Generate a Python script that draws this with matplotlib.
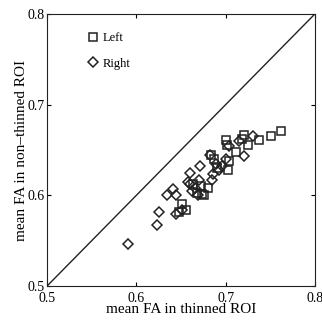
import matplotlib.pyplot as plt

# Left hemisphere (squares)
left_x = [0.762, 0.751, 0.737, 0.725, 0.721, 0.712, 0.700, 0.702, 0.704, 0.703,
          0.680, 0.674, 0.651, 0.656, 0.648, 0.687, 0.690, 0.672, 0.668, 0.664,
          0.676, 0.684, 0.718]
left_y = [0.671, 0.665, 0.661, 0.656, 0.667, 0.648, 0.661, 0.655, 0.638, 0.628,
          0.608, 0.602, 0.591, 0.584, 0.582, 0.640, 0.630, 0.610, 0.603, 0.612,
          0.600, 0.645, 0.662]

# Right hemisphere (diamonds)
right_x = [0.591, 0.623, 0.625, 0.634, 0.641, 0.644, 0.645, 0.651, 0.660, 0.671,
           0.670, 0.685, 0.686, 0.683, 0.689, 0.704, 0.715, 0.721, 0.731, 0.660,
           0.662, 0.666, 0.669, 0.658, 0.693, 0.696, 0.700]
right_y = [0.546, 0.567, 0.582, 0.600, 0.607, 0.600, 0.579, 0.584, 0.625, 0.632,
           0.617, 0.617, 0.624, 0.644, 0.635, 0.654, 0.660, 0.643, 0.665, 0.612,
           0.605, 0.608, 0.600, 0.615, 0.628, 0.632, 0.640]

ticks = [0.5, 0.6, 0.7, 0.8]

plt.rcParams['font.family'] = ['Liberation Serif', 'DejaVu Serif']

fig = plt.figure(figsize=(3.22, 3.24), dpi=100)
ax = fig.add_axes([0.146, 0.117, 0.832, 0.840])

ax.plot([0.5, 0.8], [0.5, 0.8], color='#222222', lw=1.0)
ax.plot(left_x, left_y, 's', ms=5.2, mfc='none', mec='#222222', mew=1.1, label='Left')
ax.plot(right_x, right_y, 'D', ms=5.2, mfc='none', mec='#222222', mew=1.1, label='Right')

ax.set_xlim(0.5, 0.8)
ax.set_ylim(0.5, 0.8)
ax.set_xticks(ticks)
ax.set_yticks(ticks)
ax.set_xticklabels([str(t) for t in ticks])
ax.set_yticklabels([str(t) for t in ticks])
ax.tick_params(direction='in', top=True, right=True, labelsize=10, length=3)
ax.tick_params(axis='x', pad=4)
ax.tick_params(axis='y', pad=2)
ax.set_xlabel('mean FA in thinned ROI', fontsize=11, labelpad=-1)
ax.set_ylabel('mean FA in non\u2013thinned ROI', fontsize=11, labelpad=-1)
for s in ax.spines.values():
    s.set_color('#222222')

ax.legend(loc='upper left', frameon=False, fontsize=9, handletextpad=0.3,
          labelspacing=1.1, borderaxespad=0.6, bbox_to_anchor=(0.1, 0.98),
          handlelength=1.0)

fig.savefig('out.png', dpi=100)
